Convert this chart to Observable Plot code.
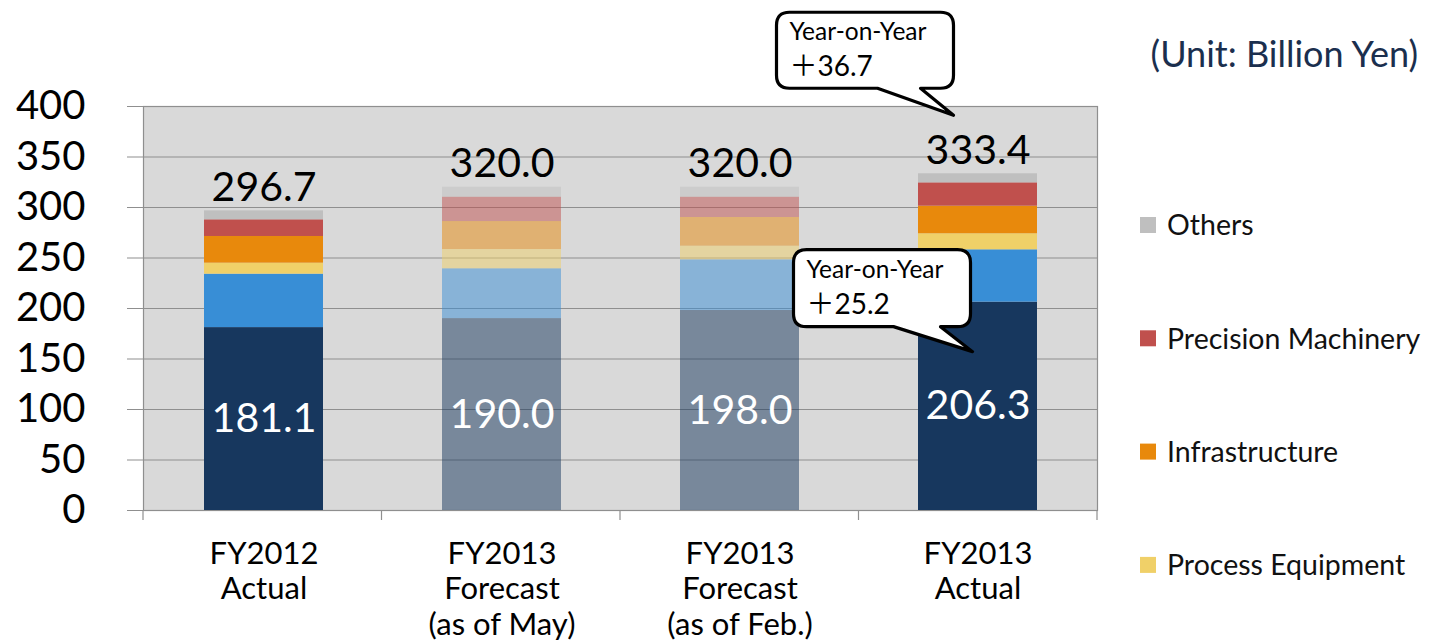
<!DOCTYPE html>
<html>
<head>
<meta charset="utf-8">
<script src="https://cdn.jsdelivr.net/npm/d3@7"></script>
<script src="https://cdn.jsdelivr.net/npm/@observablehq/plot@0.6"></script>
<style>
  html, body { margin: 0; padding: 0; background: #fff; }
  #chart { width: 1434px; height: 641px; }
</style>
</head>
<body>
<div id="chart"></div>
<script>
// Orders by period and segment (billion yen), stacked bottom to top
const periods = ["FY2012 Actual", "FY2013 Forecast (as of May)", "FY2013 Forecast (as of Feb.)", "FY2013 Actual"];
const periodLabels = ["FY2012\nActual", "FY2013\nForecast\n(as of May)", "FY2013\nForecast\n(as of Feb.)", "FY2013\nActual"];
const isForecast = [false, true, true, false];

const segments = ["Mainstay Business", "Growth Business", "Process Equipment", "Infrastructure", "Precision Machinery", "Others"];
const segmentColors = ["#17375e", "#388ed6", "#f0d068", "#e8890c", "#c0504d", "#bfbfbf"];

const mainstay  = [181.1, 190.0, 198.0, 206.3];
const growth    = [52.9, 49.3, 50.2, 51.8];
const process   = [10.9, 19.1, 13.5, 15.9];
const infra     = [26.4, 27.7, 28.4, 27.3];
const precision = [16.5, 24.1, 20.1, 23.1];
const others    = [8.9, 9.8, 9.8, 9.0];
const totals    = [296.7, 320.0, 320.0, 333.4];

const yTicks = [0, 50, 100, 150, 200, 250, 300, 350, 400];
const legendSegments = ["Others", "Precision Machinery", "Infrastructure", "Process Equipment"];
const unitLabel = "(Unit: Billion Yen)";

const seriesValues = [mainstay, growth, process, infra, precision, others];
const rows = periods.flatMap((p, i) =>
  segments.map((s, j) => ({period: p, segment: s, value: seriesValues[j][i], opacity: isForecast[i] ? 0.5 : 1}))
);
const totalRows = periods.map((p, i) => ({period: p, total: totals[i]}));
const baseRows = periods.map((p, i) => ({period: p, value: mainstay[i]}));

const FONT = "Lato, 'Noto Sans', 'Noto Sans CJK JP', sans-serif";
const GRID = "#8f8f8f";

// Category separator ticks, callouts, legend and unit note
function overlay(index, scales, values, dimensions) {
  const {width, height, marginLeft, marginRight, marginTop, marginBottom} = dimensions;
  const x = scales.x, y = scales.y;
  const g = d3.create("svg:g").attr("font-family", FONT).attr("text-anchor", "start");
  const plotW = width - marginLeft - marginRight;
  const step = plotW / periods.length;
  const bottom = height - marginBottom;

  // tick marks between categories on the x axis
  for (let k = 0; k <= periods.length; k++) {
    const bx = marginLeft + k * step;
    g.append("line").attr("x1", bx).attr("x2", bx).attr("y1", bottom).attr("y2", bottom + 10)
      .attr("stroke", GRID).attr("stroke-width", 1.2);
  }

  const bw = x.bandwidth ? x.bandwidth() : step / 2;
  const last = periods.length - 1;
  const cx = x(periods[last]) + bw / 2;

  function callout(tipX, tipY, box, line1, line2) {
    const [x0, y0, x1, y1] = box;
    const r = 13;
    const bl = tipX - box[4], br = tipX - box[5];
    const path = `M${x0 + r},${y0} H${x1 - r} Q${x1},${y0} ${x1},${y0 + r} V${y1 - r} Q${x1},${y1} ${x1 - r},${y1}` +
      ` H${br} L${tipX},${tipY} L${bl},${y1} H${x0 + r} Q${x0},${y1} ${x0},${y1 - r} V${y0 + r} Q${x0},${y0} ${x0 + r},${y0} Z`;
    g.append("path").attr("d", path).attr("fill", "#fff").attr("stroke", "#000")
      .attr("stroke-width", 3.2).attr("stroke-linejoin", "round");
    g.append("text").attr("x", x0 + 13).attr("y", y0 + 28).attr("text-anchor", "start")
      .attr("font-size", 24.5).attr("fill", "#000").text(line1);
    g.append("text").attr("x", x0 + 13).attr("y", y0 + 64).attr("text-anchor", "start")
      .attr("font-size", 28).attr("fill", "#000").text(line2);
  }

  const yoyTotal = (totals[last] - totals[0]).toFixed(1);
  const yoyBase = (mainstay[last] - mainstay[0]).toFixed(1);

  // callout pointing at the total of the latest bar
  const t1x = cx - 24, t1y = y(totals[last]) - 58;
  callout(t1x, t1y, [t1x - 177, t1y - 103, t1x, t1y - 27, 76, 33], "Year-on-Year", "\uFF0B" + yoyTotal);
  // callout pointing at the mainstay segment of the latest bar
  const t2x = cx - 5, t2y = y(mainstay[last]) + 50;
  callout(t2x, t2y, [t2x - 179, t2y - 102, t2x - 2, t2y - 25, 79, 32], "Year-on-Year", "\uFF0B" + yoyBase);

  // unit note
  g.append("text").attr("x", width - 16).attr("y", 67).attr("text-anchor", "end")
    .attr("font-size", 36).attr("fill", "#1b2f4e").text(unitLabel);

  // legend
  const lx = width - marginRight + 43;
  legendSegments.forEach((s, i) => {
    const cy = 225 + i * 113.3;
    const color = segmentColors[segments.indexOf(s)];
    g.append("rect").attr("x", lx).attr("y", cy - 8).attr("width", 16).attr("height", 16).attr("fill", color);
    g.append("text").attr("x", lx + 27).attr("y", cy).attr("dy", "0.36em").attr("text-anchor", "start")
      .attr("font-size", 28.5).attr("fill", "#111").text(s);
  });
  return g.node();
}

const chart = Plot.plot({
  width: 1434,
  height: 641,
  marginTop: 106,
  marginLeft: 143,
  marginRight: 337,
  marginBottom: 131,
  style: {fontFamily: FONT, background: "#fff", color: "#000", overflow: "visible"},
  x: {domain: periods, paddingInner: 0.5, paddingOuter: 0.25, axis: null},
  y: {domain: [0, 400], axis: null},
  color: {domain: segments, range: segmentColors},
  marks: [
    Plot.frame({fill: "#d9d9d9"}),
    Plot.gridY(yTicks, {stroke: GRID, strokeOpacity: 1, strokeWidth: 1.2}),
    Plot.frame({stroke: GRID, strokeWidth: 1.2}),
    Plot.axisY(yTicks, {tickSize: 16, tickPadding: 42, fontSize: 40, stroke: GRID, fill: "#000", tickFormat: d => String(d)}),
    Plot.barY(rows, {x: "period", y: "value", fill: "segment", fillOpacity: "opacity"}),
    Plot.text(totalRows, {x: "period", y: "total", text: d => d.total.toFixed(1), lineAnchor: "bottom", dy: -10, fontSize: 41, fill: "#000"}),
    Plot.text(baseRows, {x: "period", y: d => d.value / 2, text: d => d.value.toFixed(1), fontSize: 41, fill: "#fff"}),
    Plot.text(periods, {x: d => d, y: () => 0, text: (d, i) => periodLabels[i], lineAnchor: "top", dy: 28, fontSize: 31, lineHeight: 1.15, fill: "#000"}),
    overlay
  ]
});

document.getElementById("chart").appendChild(chart);
</script>
</body>
</html>
